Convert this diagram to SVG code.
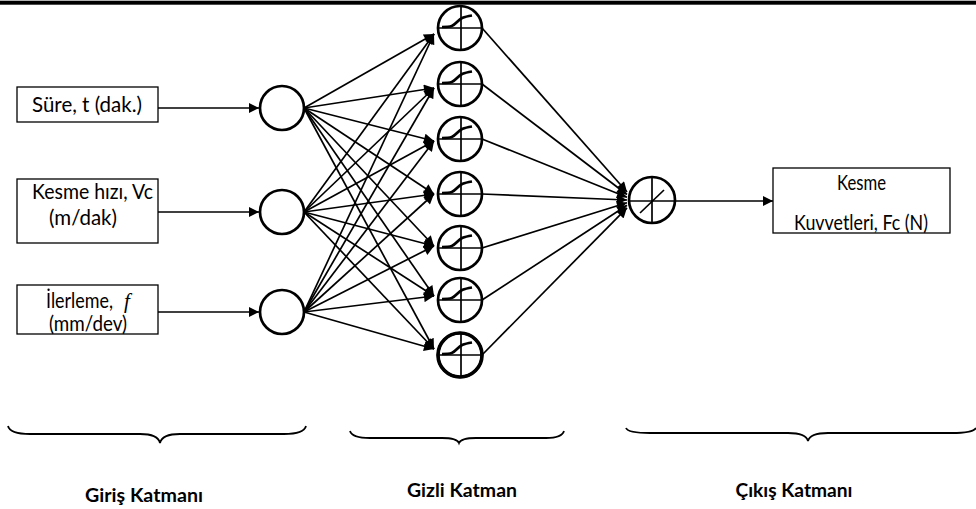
<svg xmlns="http://www.w3.org/2000/svg" xmlns:xlink="http://www.w3.org/1999/xlink" width="976" height="509" viewBox="0 0 976 509">
<style>
  .box { fill: #ffffff; stroke: #000000; stroke-width: 1.3; }
  .t { font-family: Lato, "Open Sans", "Liberation Sans", sans-serif; font-size: 20.5px; fill: #000000; text-anchor: middle; }
  .ts { font-family: Lato, "Open Sans", "Liberation Sans", sans-serif; font-size: 20.5px; fill: #000000; text-anchor: start; }
  .it { font-family: "Liberation Serif", serif; font-style: italic; font-size: 21px; fill: #000000; text-anchor: start; }
  .lbl { font-family: Lato, "Open Sans", "Liberation Sans", sans-serif; font-size: 19px; font-weight: bold; fill: #000000; text-anchor: middle; }
  .node { fill: #ffffff; stroke: #000000; stroke-width: 2.7; }
  .cross { stroke: #000000; stroke-width: 1.7; fill: none; }
  .sig { stroke: #000000; stroke-width: 2.7; fill: none; }
  .con { stroke: #000000; stroke-width: 1.7; fill: none; marker-end: url(#ah); }
  .brace { stroke: #000000; stroke-width: 1.8; fill: none; }
</style>
<defs>
  <marker id="ah" viewBox="0 0 10 10" refX="10" refY="5" markerWidth="12" markerHeight="10" markerUnits="userSpaceOnUse" orient="auto">
    <path d="M0,0 L10,5 L0,10 z" fill="#000000"/>
  </marker>
  <g id="hnode">
    <circle cx="0" cy="0" r="22" class="node"/>
    <line x1="-22" y1="0" x2="22" y2="0" class="cross"/>
    <line x1="1" y1="-22" x2="1" y2="22" class="cross"/>
    <path d="M-18,-1 C-8,-1 -7,-2 -3,-6 C1,-10 3,-11 12,-12.5" class="sig"/>
  </g>
</defs>

<rect x="0" y="0.7" width="976" height="4" fill="#000000"/>

<g id="connectors">
  <line x1="158" y1="108" x2="259" y2="108" class="con"/>
  <line x1="158" y1="212" x2="259" y2="212" class="con"/>
  <line x1="158" y1="312" x2="259" y2="312" class="con"/>
  <line x1="304" y1="108" x2="434" y2="34" class="con"/>
  <line x1="304" y1="108" x2="434" y2="88" class="con"/>
  <line x1="304" y1="108" x2="434" y2="141" class="con"/>
  <line x1="304" y1="108" x2="434" y2="194" class="con"/>
  <line x1="304" y1="108" x2="434" y2="246" class="con"/>
  <line x1="304" y1="108" x2="434" y2="296" class="con"/>
  <line x1="304" y1="108" x2="434" y2="349" class="con"/>
  <line x1="304" y1="212" x2="434" y2="34" class="con"/>
  <line x1="304" y1="212" x2="434" y2="88" class="con"/>
  <line x1="304" y1="212" x2="434" y2="141" class="con"/>
  <line x1="304" y1="212" x2="434" y2="194" class="con"/>
  <line x1="304" y1="212" x2="434" y2="246" class="con"/>
  <line x1="304" y1="212" x2="434" y2="296" class="con"/>
  <line x1="304" y1="212" x2="434" y2="349" class="con"/>
  <line x1="304" y1="312" x2="434" y2="34" class="con"/>
  <line x1="304" y1="312" x2="434" y2="88" class="con"/>
  <line x1="304" y1="312" x2="434" y2="141" class="con"/>
  <line x1="304" y1="312" x2="434" y2="194" class="con"/>
  <line x1="304" y1="312" x2="434" y2="246" class="con"/>
  <line x1="304" y1="312" x2="434" y2="296" class="con"/>
  <line x1="304" y1="312" x2="434" y2="349" class="con"/>
  <line x1="482" y1="28" x2="627" y2="192" class="con"/>
  <line x1="482" y1="84" x2="627" y2="194.5" class="con"/>
  <line x1="482" y1="139" x2="627" y2="197.3" class="con"/>
  <line x1="482" y1="194" x2="627" y2="200" class="con"/>
  <line x1="482" y1="248" x2="627" y2="202.7" class="con"/>
  <line x1="482" y1="300" x2="627" y2="205.3" class="con"/>
  <line x1="482" y1="355" x2="627" y2="207.8" class="con"/>
  <line x1="675" y1="201" x2="773" y2="201" class="con"/>
</g>

<g id="box-sure">
  <rect x="17" y="87" width="141" height="35" class="box"/>
  <text x="87" y="112" class="t" textLength="110" lengthAdjust="spacingAndGlyphs">Süre, t (dak.)</text>
</g>
<g id="box-kesme-hizi">
  <rect x="17" y="179" width="141" height="64" class="box"/>
  <text x="92.5" y="199" class="t" textLength="121" lengthAdjust="spacingAndGlyphs">Kesme hızı, Vc</text>
  <text x="83" y="225" class="t" textLength="68" lengthAdjust="spacingAndGlyphs">(m/dak)</text>
</g>
<g id="box-ilerleme">
  <rect x="17" y="285" width="141" height="49" class="box"/>
  <text x="46" y="308" class="ts" textLength="67" lengthAdjust="spacingAndGlyphs">İlerleme,</text>
  <text x="124" y="308" class="it">f</text>
  <text x="88" y="331" class="t" textLength="78" lengthAdjust="spacingAndGlyphs">(mm/dev)</text>
</g>

<g id="input-1"><circle cx="282" cy="108" r="22" class="node"/></g>
<g id="input-2"><circle cx="282" cy="212" r="22" class="node"/></g>
<g id="input-3"><circle cx="282" cy="312" r="22" class="node"/></g>

<g id="hidden-1"><use xlink:href="#hnode" href="#hnode" transform="translate(460,28)"/></g>
<g id="hidden-2"><use xlink:href="#hnode" href="#hnode" transform="translate(460,84)"/></g>
<g id="hidden-3"><use xlink:href="#hnode" href="#hnode" transform="translate(460,139)"/></g>
<g id="hidden-4"><use xlink:href="#hnode" href="#hnode" transform="translate(460,194)"/></g>
<g id="hidden-5"><use xlink:href="#hnode" href="#hnode" transform="translate(460,248)"/></g>
<g id="hidden-6"><use xlink:href="#hnode" href="#hnode" transform="translate(460,300)"/></g>
<g id="hidden-7">
  <use xlink:href="#hnode" href="#hnode" transform="translate(460,355)"/>
  <circle cx="460" cy="355" r="22" fill="none" stroke="#000000" stroke-width="3.6"/>
</g>

<g id="output-node">
  <circle cx="652" cy="200" r="23" class="node"/>
  <line x1="629" y1="201" x2="675" y2="201" class="cross"/>
  <line x1="652" y1="177" x2="652" y2="223" class="cross"/>
  <line x1="640" y1="213" x2="664" y2="190" class="cross"/>
</g>

<g id="box-output">
  <rect x="773" y="168" width="177" height="65" class="box"/>
  <text x="861.5" y="190" class="t" textLength="49" lengthAdjust="spacingAndGlyphs">Kesme</text>
  <text x="861" y="230" class="t" textLength="134" lengthAdjust="spacingAndGlyphs">Kuvvetleri, Fc (N)</text>
</g>

<g id="brace-input">
  <path d="M8,426 Q10,434 30,434 L140,434 Q158,434 160,443 Q162,434 180,434 L284,434 Q304,434 306,426" class="brace"/>
  <text x="144" y="502" class="lbl" textLength="118" lengthAdjust="spacingAndGlyphs">Giriş Katmanı</text>
</g>
<g id="brace-hidden">
  <path d="M350,431 Q352,438 370,438 L442,438 Q457,438 459,443 Q461,438 476,438 L546,438 Q562,438 564,431" class="brace"/>
  <text x="462" y="497" class="lbl" textLength="110" lengthAdjust="spacingAndGlyphs">Gizli Katman</text>
</g>
<g id="brace-output">
  <path d="M626,428 Q628,433 650,433 L788,433 Q806,433 808,441 Q810,433 828,433 L952,433 Q973,433 976,428" class="brace"/>
  <text x="794" y="497" class="lbl" textLength="117" lengthAdjust="spacingAndGlyphs">Çıkış Katmanı</text>
</g>
</svg>
